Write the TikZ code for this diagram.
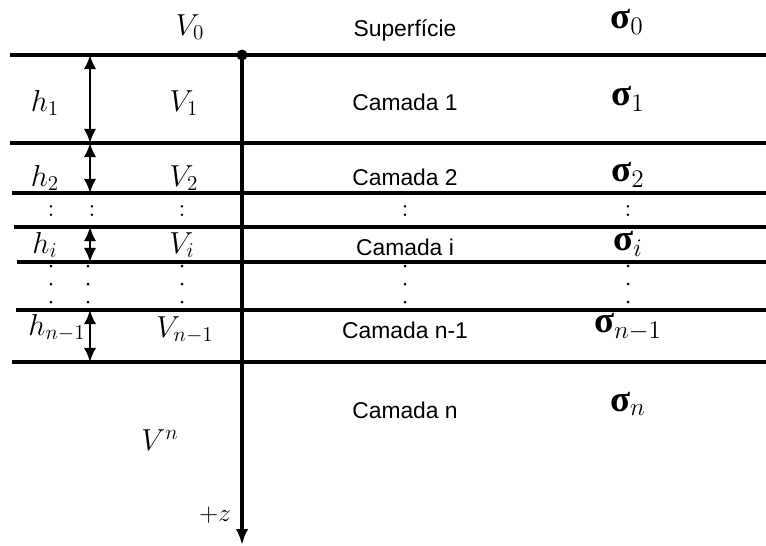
\documentclass[tikz,border=0pt]{standalone}
\usepackage{fontspec}
\setsansfont{Liberation Sans}
\newfontfamily\sigfont{Liberation Serif}
\usetikzlibrary{arrows.meta}

\tikzset{
  layer/.style={line width=2pt},
  harrow/.style={{Latex[length=8pt,width=7pt]}-{Latex[length=8pt,width=7pt]},line width=1.3pt},
  mlabel/.style={font=\fontsize{17}{19}\selectfont},
  clabel/.style={font=\sffamily\fontsize{13}{15}\selectfont},
  slabel/.style={font=\fontsize{19}{21}\selectfont,inner sep=0pt},
  dotlbl/.style={font=\fontsize{14}{16}\selectfont,inner sep=0pt}
}
\newcommand{\sig}{\mbox{\sigfont\bfseries\fontsize{21}{23}\selectfont σ}}

\begin{document}
\begin{tikzpicture}[x=0.02cm,y=-0.02cm]
\useasboundingbox (0,0) rectangle (766,545);

% interfaces between the layers
\draw[layer] (10,55)--(766,55);
\draw[layer] (10,143)--(766,143);
\draw[layer] (12,193)--(766,193);
\draw[layer] (14,227)--(766,227);
\draw[layer] (17,262)--(766,262);
\draw[layer] (16,310)--(766,310);
\draw[layer] (12,362)--(766,362);

% depth axis
\coordinate (ztop) at (242,55);
\coordinate (zend) at (242,545);
\fill (ztop) circle (5.5);
\draw[line width=2.2pt,-{Latex[length=9pt,width=7pt]}] (ztop)--(zend);
\node[font=\fontsize{14}{16}\selectfont] (zlbl) at (215,515) {$+z$};

% thicknesses
\coordinate (h1a) at (90,55);
\coordinate (h1b) at (90,143);
\coordinate (h2a) at (90,143);
\coordinate (h2b) at (90,193);
\coordinate (hia) at (90,227);
\coordinate (hib) at (90,262);
\coordinate (hna) at (90,310);
\coordinate (hnb) at (90,362);
\draw[harrow] (h1a)--(h1b);
\draw[harrow] (h2a)--(h2b);
\draw[harrow] (hia)--(hib);
\draw[harrow] (hna)--(hnb);

% surface
\node[mlabel] (v0) at (190,27) {$V_0$};
\node[clabel] (sup) at (405,30) {Superfície};
\node[slabel] (s0) at (627,22) {$\sig_0$};

% layer 1
\node[mlabel] (h1) at (45,103) {$h_1$};
\node[mlabel] (v1) at (184,103) {$V_1$};
\node[clabel] (c1) at (405,102) {Camada 1};
\node[slabel] (s1) at (628,99) {$\sig_1$};

% layer 2
\node[mlabel] (h2) at (45,178) {$h_2$};
\node[mlabel] (v2) at (184,178) {$V_2$};
\node[clabel] (c2) at (405,177) {Camada 2};
\node[slabel] (s2) at (628,175) {$\sig_2$};

% first dots
\foreach \x in {51,92,182,405,628}
  \node[dotlbl] at (\x,211) {$:$};

% layer i
\node[mlabel] (hi) at (45,245) {$h_i$};
\node[mlabel] (vi) at (182,245) {$V_i$};
\node[clabel] (ci) at (405,247) {Camada i};
\node[slabel] (si) at (628,244) {$\sig_i$};

% second dots
\foreach \x in {51,88,182,405,628}
  \foreach \y in {266,284,302}
    \fill (\x,\y) circle (1.5);

% layer n-1
\node[mlabel] (hn) at (57,328) {$h_{n-1}$};
\node[mlabel] (vn) at (185,330) {$V_{n-1}$};
\node[clabel] (cn) at (405,330) {Camada n-1};
\node[slabel] (sn) at (628,327) {$\sig_{n-1}$};

% half-space
\node[mlabel] (vlast) at (160,440) {$V^n$};
\node[clabel] (clast) at (405,410) {Camada n};
\node[slabel] (slast) at (628,404) {$\sig_n$};
\end{tikzpicture}
\end{document}
